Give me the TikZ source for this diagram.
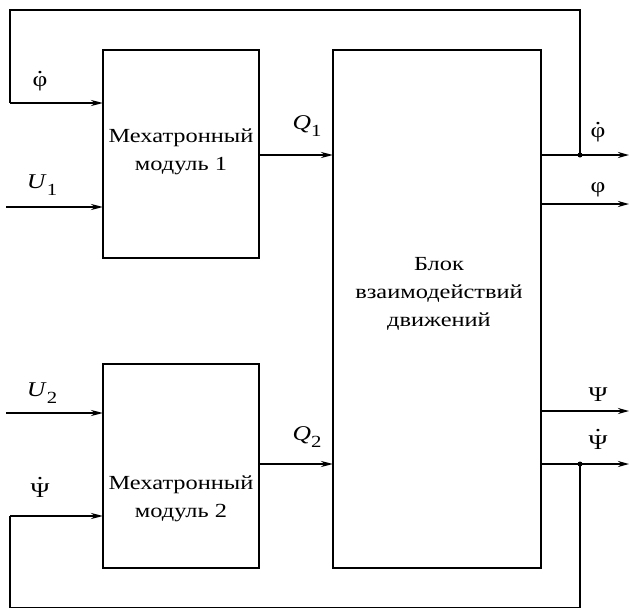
\documentclass[tikz,border=0pt]{standalone}
\usepackage{fontspec}
\setmainfont{Liberation Serif}[FakeStretch=1.22]
\usetikzlibrary{arrows.meta}
% a quantity with a dot above (time derivative); #1 = lift of the dot
\newcommand\tdot[2][0.62em]{\ooalign{#2\cr\hidewidth\raisebox{#1}{.}\hidewidth\cr}}
\newcommand\sbs[1]{\raisebox{-0.32em}{\fontsize{17}{17}\selectfont #1}}
\begin{document}
\begin{tikzpicture}[x=1pt,y=-1pt,
  box/.style={draw,line width=2.4pt,inner sep=0pt,outer sep=0pt},
  wire/.style={line width=2.3pt},
  arr/.style={line width=2.3pt,-{Stealth[length=12pt,width=6pt]}},
  outarr/.style={line width=1.9pt,-{Stealth[length=11pt,width=6pt]}},
  lbl/.style={font=\fontsize{21}{24}\selectfont,inner sep=0pt},
  txt/.style={font=\fontsize{20}{28}\selectfont,align=center,inner sep=0pt},
  dot/.style={circle,fill,inner sep=0pt,minimum size=5pt}]
\useasboundingbox (0,0) rectangle (630,608);

% blocks
\node[box,minimum width=156pt,minimum height=208pt] (m1) at (181,154) {};
\node[box,minimum width=156pt,minimum height=204pt] (m2) at (181,466) {};
\node[box,minimum width=208pt,minimum height=518pt] (blk) at (437,309) {};

\node[txt] (t1) at (181,152) {Мехатронный\\модуль 1};
\node[txt] (t2) at (181,499) {Мехатронный\\модуль 2};
\node[txt] (t3) at (439,294) {Блок\\взаимодействий\\движений};

% branch points and free ends
\coordinate (j1) at (580,155);
\coordinate (j2) at (580,464);
\coordinate (tr) at (580,10);
\coordinate (tl) at (10,10);
\coordinate (fb1) at (10,103);
\coordinate (br) at (580,608);
\coordinate (bl) at (10,608);
\coordinate (fb2) at (10,516);
\coordinate (u1) at (6,207);
\coordinate (u2) at (6,413);
\coordinate (o1) at (629,155);
\coordinate (o2) at (629,204);
\coordinate (o3) at (629,411);
\coordinate (o4) at (629,464);

% inputs
\draw[arr] (u1) -- (m1.west |- u1);
\draw[arr] (u2) -- (m2.west |- u2);

% feedback loops
\draw[wire] (j1) -- (tr) -- (tl) -- (fb1);
\draw[arr] (fb1) -- (m1.west |- fb1);
\draw[wire] (j2) -- (br) -- (bl) -- (fb2);
\draw[arr] (fb2) -- (m2.west |- fb2);

% module outputs
\draw[arr] (m1.east |- j1) -- (blk.west |- j1);
\draw[arr] (m2.east |- j2) -- (blk.west |- j2);

% block outputs
\draw[outarr] (blk.east |- o1) -- (o1);
\draw[outarr] (blk.east |- o2) -- (o2);
\draw[outarr] (blk.east |- o3) -- (o3);
\draw[outarr] (blk.east |- o4) -- (o4);
\node[dot] (d1) at (j1) {};
\node[dot] (d2) at (j2) {};

% labels
\node[lbl] (l1) at (40,82) {\tdot{φ}};
\node[lbl] (l2) at (42,185) {\textit{U}\sbs{1}};
\node[lbl] (l3) at (307,126) {\textit{Q}\sbs{1}};
\node[lbl] (l4) at (598,133) {\tdot{φ}};
\node[lbl] (l5) at (598,190) {φ};
\node[lbl] (l6) at (598,395) {Ψ};
\node[lbl] (l7) at (598,443) {\tdot[0.88em]{Ψ}};
\node[lbl] (l8) at (42,393) {\textit{U}\sbs{2}};
\node[lbl] (l9) at (307,437) {\textit{Q}\sbs{2}};
\node[lbl] (l10) at (40,491) {\tdot[0.88em]{Ψ}};
\end{tikzpicture}
\end{document}
